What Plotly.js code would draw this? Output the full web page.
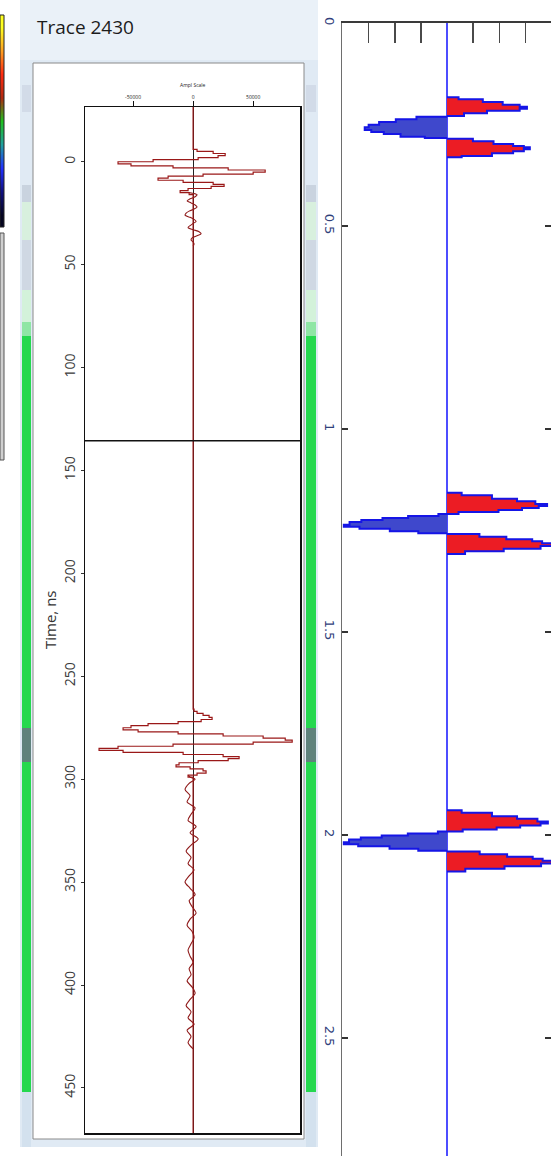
<!DOCTYPE html>
<html><head><meta charset="utf-8">
<script src="https://cdn.plot.ly/plotly-3.0.1.min.js"></script>
<style>html,body{margin:0;padding:0;background:#fff}#chart{width:551px;height:1156px}</style>
</head><body><div id="chart"></div>
<script>
// ---------- Trace 2430: time (ns) and amplitude of the main reflections ----------
const traceTime = [-27,-8,-7,-6,-5,-4,-3,-2,-1,0,1,2,3,4,5,6,7,8,9,10,11,12,13,14,15,16,
  253,266,267,268,269,270,271,272,273,274,275,276,277,278,279,280,281,282,283,284,285,286,287,288,289,290,
  291,292,293,294,295,296,297,298,299,475];
const traceAmp = [0,0,0,3300,16700,26700,20800,4200,-33300,-62500,-51700,-16700,29200,60000,50000,8300,-20800,-29200,-8300,16700,
  25800,15000,-4200,-10800,-3300,0,
  0,800,3300,8300,13300,15800,6700,-12500,-37500,-51700,-58300,-45800,-12500,25000,58300,76700,82500,50000,-16700,-62500,
  -78300,-58300,-8300,25000,38300,29200,4200,-11700,-14200,-2500,8300,10800,3300,-4200,0,0];
// low-level ringing after the first arrival (null splits it from the noise after the second)
const codaTime = [15,16,17,18,19,20,21,22,23,24,25,26,27,28,29,30,31,32,33,34,35,36,37,38,39,40,41,null,
  298,299,300,302,305,308,311,314,317,320,323,326,329,332,335,338,341,344,347,350,353,356,359,362,365,368,371,374,377,
  380,383,386,389,392,395,398,401,404,407,410,413,416,419,422,425,428,431];
const codaAmp = [-3300,3300,1700,-2500,-5000,-1700,1700,3300,800,-3300,-5800,-6700,-2500,800,2500,0,-2500,-4200,0,5000,6700,3300,-800,-1700,0,800,0,null,
  -4200,-2500,1700,-3300,-6700,-2500,-5000,1700,-1700,-4200,2500,-2500,4200,-1700,-5800,-1700,-4200,800,-3300,-6700,-2500,1700,-3300,
  -800,2500,-2500,-5000,-800,800,-1700,-4200,-2500,0,-3300,-1700,-5000,-800,1700,-2500,-5800,-1700,-4200,800,
  -5000,-1700,-4200,0];
const ampTicks = [-50000, 0, 50000];
const ampTickText = ['-50000', '0', '50000'];
const timeTicks = [0,50,100,150,200,250,300,350,400,450];
const pickTime = 135.5;

// ---------- Wavelet lobes: step boundaries and the amplitude held in each step ----------
const w1UpT  = [0.1831,0.1880,0.1946,0.2012,0.2061,0.2110,0.2160,0.2225,0.2291];
const w1UpA  = [0.44,1.37,2.13,2.78,3.06,2.78,1.53,0.65];
const w1MidT = [0.2307,0.2373,0.2438,0.2504,0.2570,0.2635,0.2685,0.2734,0.2800,0.2833];
const w1MidA = [-1.17,-1.96,-2.60,-3.00,-3.15,-2.90,-2.42,-1.78,-0.85];
const w1LowT = [0.2849,0.2915,0.2980,0.3030,0.3062,0.3112,0.3161,0.3210,0.3276,0.3308];
const w1LowA = [0.99,1.78,2.53,2.94,3.17,2.94,2.53,1.72,0.56];

const w2UpT  = [1.1569,1.1634,1.1717,1.1782,1.1847,1.1897,1.1946,1.1995,1.2044,1.2094];
const w2UpA  = [0.56,1.72,2.68,3.38,3.83,3.51,2.87,1.97,0.44];
const w2MidT = [1.2094,1.2143,1.2192,1.2241,1.2291,1.2357,1.2406,1.2456,1.2521,1.2570];
const w2MidA = [-0.33,-1.49,-2.47,-3.28,-3.73,-3.95,-3.35,-2.19,-1.10];
const w2LowT = [1.2586,1.2652,1.2718,1.2767,1.2816,1.2882,1.2948,1.3013,1.3079];
const w2LowA = [1.24,2.27,3.26,3.64,4.10,3.58,2.17,0.69];

const w3UpT  = [1.9389,1.9454,1.9537,1.9602,1.9667,1.9717,1.9766,1.9815,1.9864,1.9914];
const w3UpA  = [0.56,1.72,2.68,3.46,3.86,3.58,2.80,1.90,0.60];
const w3MidT = [1.9914,1.9963,2.0012,2.0061,2.0111,2.0177,2.0226,2.0276,2.0341,2.0390];
const w3MidA = [-0.35,-1.50,-2.50,-3.30,-3.75,-3.95,-3.40,-2.20,-1.10];
const w3LowT = [2.0406,2.0472,2.0538,2.0587,2.0636,2.0702,2.0768,2.0833,2.0899];
const w3LowA = [1.25,2.30,3.28,3.66,4.12,3.60,2.20,0.70];

const waveTicks = [0,0.5,1,1.5,2,2.5];
const waveTickText = ['0','0.5','1','1.5','2','2.5'];
const ampGrid = [-3,-2,-1,1,2,3];

// ---------- Palette strip ----------
const paletteLevels = [[0,0],[1,1],[2,2],[3,3],[4,4],[5,5],[6,6],[7,7],[8,8]];
const paletteColors = ['#ffff20','#ffa020','#ff2a10','#b02a10','#20c020','#20a0a0','#2030ff','#101080','#050520'];

// ---------- page geometry helpers (paper fractions from pixel positions) ----------
const W = 551, H = 1156;
const px = x => x / W;
const py = y => 1 - y / H;

const POS = '#ec1c24', NEG = '#3f48cc', EDGE = '#1515e6';
function lobe(t, a, fill) {
  return {
    type: 'scatter', mode: 'lines', xaxis: 'x2', yaxis: 'y2',
    x: [0].concat(a, [0]), y: t.concat([t[t.length - 1]]),
    line: {shape: 'hv', color: EDGE, width: 2}, fill: 'tozerox', fillcolor: fill,
    hoverinfo: 'skip', showlegend: false
  };
}

const data = [
  {type: 'scatter', mode: 'lines', x: codaAmp, y: codaTime, xaxis: 'x', yaxis: 'y', connectgaps: false,
   line: {shape: 'spline', smoothing: 0.8, color: '#8f1a1a', width: 1.1}, showlegend: false, hoverinfo: 'skip'},
  {type: 'scatter', mode: 'lines', x: traceAmp, y: traceTime, xaxis: 'x', yaxis: 'y',
   line: {shape: 'vh', color: '#9a1818', width: 1.2}, showlegend: false, hoverinfo: 'skip'},
  lobe(w1UpT, w1UpA, POS), lobe(w1MidT, w1MidA, NEG), lobe(w1LowT, w1LowA, POS),
  lobe(w2UpT, w2UpA, POS), lobe(w2MidT, w2MidA, NEG), lobe(w2LowT, w2LowA, POS),
  lobe(w3UpT, w3UpA, POS), lobe(w3MidT, w3MidA, NEG), lobe(w3LowT, w3LowA, POS),
  {type: 'heatmap', z: paletteLevels, xaxis: 'x3', yaxis: 'y3', showscale: false, zsmooth: 'best',
   colorscale: paletteColors.map((c, i) => [i / (paletteColors.length - 1), c]), hoverinfo: 'skip'}
];

// window frame pieces drawn behind the trace view
const shapes = [];
function rect(x0, y0, x1, y1, fill, line, layer) {
  shapes.push({type: 'rect', xref: 'paper', yref: 'paper', x0: px(x0), x1: px(x1), y0: py(y1), y1: py(y0),
    fillcolor: fill, line: line || {width: 0}, layer: layer || 'below'});
}
rect(20, 0, 318, 1147, '#e0eaf4');
rect(20, 0, 318, 60, '#eaf1f8');
[[22, 31], [306, 316]].forEach(([a, b]) => {
  rect(a, 85, b, 112, '#d2dbe8');
  rect(a, 185, b, 202, '#c9d3df');
  rect(a, 202, b, 240, '#d8f0de');
  rect(a, 240, b, 290, '#cfd8e3');
  rect(a, 290, b, 322, '#d3f2da');
  rect(a, 322, b, 336, '#8fe6a5');
  rect(a, 336, b, 1092, '#25d84f');
  rect(a, 728, b, 762, '#5f827c');
  rect(a, 1092, b, 1147, '#d3e1ee');
});
rect(33, 63, 304, 1139, '#ffffff', {color: '#8a8a8a', width: 1});
rect(0, 233, 4, 460, '#cfcfcf', {color: '#555', width: 1});
rect(0, 15, 4, 227, 'rgba(0,0,0,0)', {color: '#222', width: 1}, 'above');
shapes.push({type: 'line', xref: 'x domain', yref: 'y', x0: 0, x1: 1, y0: pickTime, y1: pickTime,
  line: {color: '#111', width: 1.5}, layer: 'above'});

const layout = {
  width: W, height: H, margin: {l: 0, r: 0, t: 0, b: 0},
  paper_bgcolor: '#ffffff', plot_bgcolor: 'rgba(0,0,0,0)',
  font: {family: 'Open Sans, DejaVu Sans, sans-serif', color: '#333'},
  showlegend: false,
  xaxis: {domain: [px(85), px(300)], range: [-90000, 89000], side: 'top', anchor: 'y',
    tickvals: ampTicks, ticktext: ampTickText, ticks: 'outside', ticklen: 5, tickcolor: '#111',
    tickfont: {size: 5, color: '#222'}, showline: true, linecolor: '#111', linewidth: 1.5, mirror: true,
    showgrid: false, zeroline: true, zerolinecolor: '#222', zerolinewidth: 1, automargin: false, fixedrange: true},
  yaxis: {domain: [py(1133), py(107)], range: [471.9, -26.6], anchor: 'x',
    tickvals: timeTicks, ticks: 'outside', ticklen: 3, tickcolor: '#333', tickangle: -90,
    tickfont: {size: 14, color: '#3a3a3a'}, showline: true, linecolor: '#111', linewidth: 1.5, mirror: true,
    showgrid: false, zeroline: false, automargin: false, fixedrange: true},
  xaxis2: {domain: [px(342), 1], range: [-4.02, 3.98], side: 'top', anchor: 'y2',
    tickvals: ampGrid, ticks: 'inside', ticklen: 20, tickwidth: 1.5, tickcolor: '#4a4a4a',
    showticklabels: false, showline: true, linecolor: '#3a3a3a', linewidth: 2.5,
    showgrid: false, zeroline: true, zerolinecolor: '#4d4dff', zerolinewidth: 1.2, automargin: false, fixedrange: true},
  yaxis2: {domain: [0, py(23)], range: [2.7906, 0], anchor: 'x2',
    tickvals: waveTicks, ticktext: waveTickText, ticks: 'inside', ticklen: 6, tickwidth: 2.5, tickcolor: '#333',
    tickangle: 90, tickfont: {size: 13, color: '#30407a', family: 'DejaVu Sans, sans-serif'},
    showline: true, linecolor: '#6e6e6e', linewidth: 1.5, mirror: 'ticks',
    showgrid: false, zeroline: false, automargin: false, fixedrange: true},
  xaxis3: {domain: [0, px(4)], visible: false, anchor: 'y3', fixedrange: true},
  yaxis3: {domain: [py(227), py(15)], visible: false, anchor: 'x3', autorange: 'reversed', fixedrange: true},
  shapes: shapes,
  annotations: [
    {xref: 'paper', yref: 'paper', x: px(35), y: py(27), xanchor: 'left', yanchor: 'middle', showarrow: false,
     text: 'Trace 2430', font: {size: 19, color: '#1c1c1c', family: 'Open Sans, sans-serif'}},
    {xref: 'paper', yref: 'paper', x: px(50), y: py(620), xanchor: 'center', yanchor: 'middle', showarrow: false,
     text: 'Time, ns', textangle: -90, font: {size: 15, color: '#333'}},
    {xref: 'paper', yref: 'paper', x: px(193), y: py(85), xanchor: 'center', yanchor: 'middle', showarrow: false,
     text: 'Ampl Scale', font: {size: 5, color: '#222'}}
  ]
};

Plotly.newPlot('chart', data, layout, {staticPlot: true, displayModeBar: false});
</script></body></html>
